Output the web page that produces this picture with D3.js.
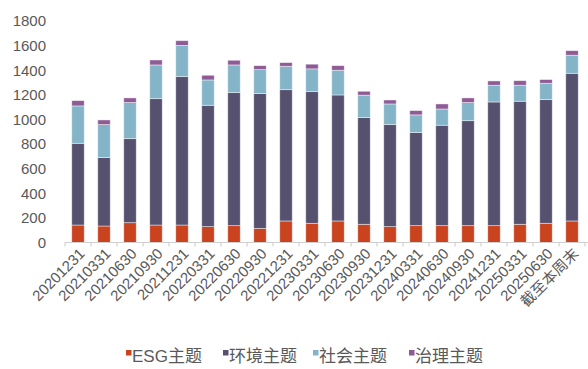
<!DOCTYPE html>
<html><head><meta charset="utf-8">
<script src="https://cdn.jsdelivr.net/npm/d3@7/dist/d3.min.js"></script>
<style>
html,body{margin:0;padding:0;background:#fff;}
svg{display:block;font-family:"Liberation Sans","Noto Sans CJK SC",Arial,sans-serif;}
</style></head>
<body><svg id="c" width="588" height="369"></svg>
<script>
const categories = ["20201231","20210331","20210630","20210930","20211231","20220331","20220630","20220930","20221231","20230331","20230630","20230930","20231231","20240331","20240630","20240930","20241231","20250331","20250630","截至本周末"];
const esg = [142,134,161,142,142,129,137,115,175,156,175,148,129,137,137,137,137,148,156,175];
const env = [664,556,683,1027,1206,986,1081,1095,1067,1070,1024,867,829,756,816,853,1005,1000,1005,1200];
const soc = [304,268,293,274,254,206,225,195,190,185,201,182,168,144,132,147,136,130,133,147];
const gov = [43,38,38,40,38,38,38,32,30,38,37,32,32,35,41,38,35,37,30,37];
const seriesNames = ["ESG主题","环境主题","社会主题","治理主题"];
const colors = ["#C8431E","#56516F","#84B4C8","#8E5B95"];
const yTicks = [0,200,400,600,800,1000,1200,1400,1600,1800];

const svg = d3.select("#c");
const x = d3.scaleBand().domain(categories).range([65,585]).paddingInner(0.52).paddingOuter(0.26);
const y = d3.scaleLinear().domain([0,1800]).range([242.5,21]);

const rows = categories.map((c,i)=>({cat:c, s0:esg[i], s1:env[i], s2:soc[i], s3:gov[i]}));
const stack = d3.stack().keys(["s0","s1","s2","s3"]);
const layers = stack(rows);

// y labels
svg.append("g").selectAll("text").data(yTicks).join("text")
  .attr("x",46).attr("y",d=>y(d)).attr("dy","0.36em")
  .attr("text-anchor","end").attr("font-size",15).attr("fill","#595959")
  .text(d=>d);

// bars
svg.append("g").selectAll("g").data(layers).join("g")
  .attr("fill",(d,i)=>colors[i])
  .selectAll("rect").data(d=>d).join("rect")
  .attr("x",d=>x(d.data.cat)).attr("width",x.bandwidth())
  .attr("y",d=>y(d[1])).attr("height",d=>y(d[0])-y(d[1]))
  .attr("stroke","#ffffff").attr("stroke-opacity",0.55).attr("stroke-width",0.8);

// x axis line and ticks
const step = x.step();
svg.append("line").attr("x1",65).attr("x2",588).attr("y1",242.5).attr("y2",242.5)
  .attr("stroke","#d0d0d0").attr("stroke-width",1);
const tickPos = categories.map(c=>x(c)+x.bandwidth()/2-step/2);
tickPos.push(x(categories[categories.length-1])+x.bandwidth()/2+step/2);
svg.append("g").selectAll("line").data(tickPos).join("line")
  .attr("x1",d=>d).attr("x2",d=>d).attr("y1",242.5).attr("y2",246.5)
  .attr("stroke","#c8c8c8").attr("stroke-width",1);

// x labels
svg.append("g").selectAll("text").data(categories).join("text")
  .attr("transform",d=>`translate(${x(d)+x.bandwidth()/2+4},${251}) rotate(-45)`)
  .attr("text-anchor","end").attr("dy","0.35em")
  .attr("font-size",15).attr("fill","#595959")
  .text(d=>d);

// legend
const legendX = [126,223,313,409];
const lg = svg.append("g").selectAll("g").data(seriesNames).join("g")
  .attr("transform",(d,i)=>`translate(${legendX[i]},0)`);
lg.append("rect").attr("x",0).attr("y",350).attr("width",5.5).attr("height",5.5)
  .attr("fill",(d,i)=>colors[i]);
lg.append("text").attr("x",6).attr("y",362).attr("font-size",17).attr("fill","#595959")
  .text(d=>d);
</script></body></html>
